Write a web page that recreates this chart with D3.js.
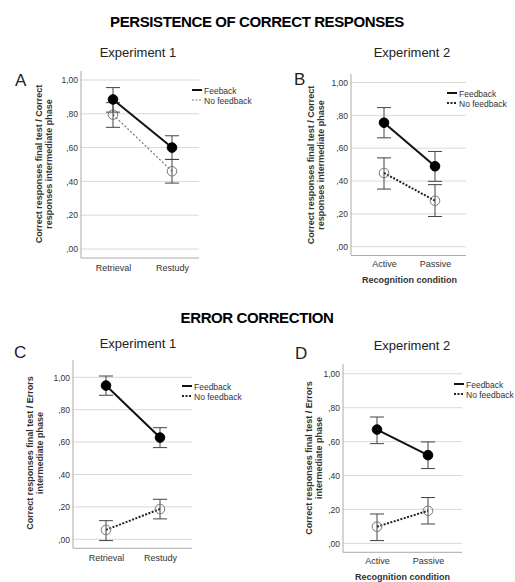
<!DOCTYPE html>
<html>
<head>
<meta charset="utf-8">
<script src="https://cdn.jsdelivr.net/npm/d3@7"></script>
<style>
  body { margin: 0; background: #fff; }
  svg text { font-family: "Liberation Sans", Arial, sans-serif; }
</style>
</head>
<body>
<script>
// categories and tick values
var exp1Conditions = ["Retrieval", "Restudy"],
    exp2Conditions = ["Active", "Passive"],
    yTickValues = [0, 0.2, 0.4, 0.6, 0.8, 1.0];

// panel A - persistence, experiment 1
var aFeedback = [0.885, 0.60],   aFeedbackLo = [0.81, 0.53],  aFeedbackHi = [0.955, 0.67],
    aNoFeedback = [0.795, 0.46], aNoFeedbackLo = [0.72, 0.39], aNoFeedbackHi = [0.866, 0.53];
// panel B - persistence, experiment 2
var bFeedback = [0.755, 0.49],   bFeedbackLo = [0.663, 0.398], bFeedbackHi = [0.847, 0.58],
    bNoFeedback = [0.449, 0.28], bNoFeedbackLo = [0.351, 0.184], bNoFeedbackHi = [0.541, 0.378];
// panel C - error correction, experiment 1
var cFeedback = [0.949, 0.628],  cFeedbackLo = [0.889, 0.566], cFeedbackHi = [1.008, 0.689],
    cNoFeedback = [0.058, 0.187], cNoFeedbackLo = [-0.008, 0.126], cNoFeedbackHi = [0.115, 0.247];
// panel D - error correction, experiment 2
var dFeedback = [0.671, 0.52],   dFeedbackLo = [0.588, 0.441], dFeedbackHi = [0.745, 0.598],
    dNoFeedback = [0.098, 0.192], dNoFeedbackLo = [0.016, 0.114], dNoFeedbackHi = [0.173, 0.27];

var width = 515, height = 582;

var svg = d3.select('body').append('svg')
    .attr('width', width)
    .attr('height', height);

var fmt = function(v){ return d3.format('.2f')(v).replace('0.', ',').replace('1.', '1,'); };

// section headings
svg.append('text').attr('x', 257).attr('y', 27)
    .attr('text-anchor', 'middle').attr('font-size', 15).attr('font-weight', 'bold')
    .attr('letter-spacing', -0.4)
    .text('PERSISTENCE OF CORRECT RESPONSES');
svg.append('text').attr('x', 257).attr('y', 323)
    .attr('text-anchor', 'middle').attr('font-size', 15).attr('font-weight', 'bold')
    .attr('letter-spacing', -0.4)
    .text('ERROR CORRECTION');

var panels = [
  { letter: 'A', exp: 'Experiment 1', cats: exp1Conditions,
    fb: aFeedback, fbLo: aFeedbackLo, fbHi: aFeedbackHi,
    nf: aNoFeedback, nfLo: aNoFeedbackLo, nfHi: aNoFeedbackHi,
    fbLabel: 'Feeback', ytitle: ['Correct responses final test / Correct', 'responses intermediate phase'],
    xtitle: null, nfGray: true,
    ax: 81, gx: 199, y1: 80, y0: 249, axisY: 258, top: 71, catX: [113, 172],
    expX: 138, expY: 57, letX: 15, letY: 86, ytX: 42, ytY: 164, legX: 192, legY: 90, catY: 271 },
  { letter: 'B', exp: 'Experiment 2', cats: exp2Conditions,
    fb: bFeedback, fbLo: bFeedbackLo, fbHi: bFeedbackHi,
    nf: bNoFeedback, nfLo: bNoFeedbackLo, nfHi: bNoFeedbackHi,
    fbLabel: 'Feedback', ytitle: ['Correct responses final test / Correct', 'responses intermediate phase'],
    xtitle: 'Recognition condition', nfGray: false,
    ax: 351, gx: 466, y1: 82.5, y0: 246.7, axisY: 255.5, top: 74, catX: [384, 435],
    expX: 412, expY: 57, letX: 294, letY: 85, ytX: 314, ytY: 165, legX: 447, legY: 93, catY: 267, xtY: 283 },
  { letter: 'C', exp: 'Experiment 1', cats: exp1Conditions,
    fb: cFeedback, fbLo: cFeedbackLo, fbHi: cFeedbackHi,
    nf: cNoFeedback, nfLo: cNoFeedbackLo, nfHi: cNoFeedbackHi,
    fbLabel: 'Feedback', ytitle: ['Correct responses final test / Errors', 'intermediate phase'],
    xtitle: null, nfGray: false,
    ax: 73, gx: 192, y1: 377.3, y0: 539.3, axisY: 548.3, top: 360, catX: [106, 160],
    expX: 138, expY: 348, letX: 14, letY: 358, ytX: 33, ytY: 453, legX: 182, legY: 386, catY: 561 },
  { letter: 'D', exp: 'Experiment 2', cats: exp2Conditions,
    fb: dFeedback, fbLo: dFeedbackLo, fbHi: dFeedbackHi,
    nf: dNoFeedback, nfLo: dNoFeedbackLo, nfHi: dNoFeedbackHi,
    fbLabel: 'Feedback', ytitle: ['Correct responses final test / Errors', 'intermediate phase'],
    xtitle: 'Recognition condition', nfGray: false,
    ax: 343, gx: 462, y1: 373.8, y0: 543.3, axisY: 552.3, top: 364, catX: [377, 428],
    expX: 412, expY: 350, letX: 295, letY: 359, ytX: 312, ytY: 458, legX: 454, legY: 384, catY: 564, xtY: 580 }
];

panels.forEach(function(p){
  var g = svg.append('g');
  var y = d3.scaleLinear().domain([0, 1]).range([p.y0, p.y1]);
  var x = d3.scalePoint().domain(p.cats).range(p.catX);

  g.append('text').attr('x', p.expX).attr('y', p.expY)
      .attr('text-anchor', 'middle').attr('font-size', 13).attr('fill', '#222')
      .text(p.exp);
  g.append('text').attr('x', p.letX).attr('y', p.letY)
      .attr('font-size', 17).attr('fill', '#222')
      .text(p.letter);

  // gridlines
  g.selectAll('line.grid').data(yTickValues).enter().append('line')
      .attr('class', 'grid')
      .attr('x1', p.ax).attr('x2', p.gx)
      .attr('y1', function(d){ return y(d); })
      .attr('y2', function(d){ return y(d); })
      .attr('stroke', '#d9d9d9').attr('stroke-width', 1);

  // y axis (tick labels only)
  var yAxis = d3.axisLeft(y).tickValues(yTickValues).tickFormat(fmt).tickSize(0).tickPadding(3);
  var ya = g.append('g').attr('transform', 'translate(' + p.ax + ',0)').call(yAxis);
  ya.select('.domain').remove();
  ya.selectAll('text').attr('font-size', 8.5).attr('fill', '#333')
      .style('font-family', '"Liberation Sans", Arial, sans-serif');
  g.append('line').attr('x1', p.ax).attr('x2', p.ax).attr('y1', p.top).attr('y2', p.axisY)
      .attr('stroke', '#aaa');

  // x axis
  var xAxis = d3.axisBottom(x).tickSize(0).tickPadding(0);
  var xa = g.append('g').attr('transform', 'translate(0,' + p.catY + ')').call(xAxis);
  xa.select('.domain').remove();
  xa.selectAll('text').attr('font-size', 9).attr('fill', '#333').attr('dy', 0)
      .style('font-family', '"Liberation Sans", Arial, sans-serif');
  g.append('line').attr('x1', p.ax).attr('x2', p.gx).attr('y1', p.axisY).attr('y2', p.axisY)
      .attr('stroke', '#aaa');

  if (p.xtitle) {
    g.append('text').attr('x', (p.catX[0] + p.catX[1]) / 2).attr('y', p.xtY)
        .attr('text-anchor', 'middle').attr('font-size', 9).attr('font-weight', 'bold').attr('fill', '#333')
        .text(p.xtitle);
  }

  // y title, two lines
  var yt = g.append('text').attr('transform', 'translate(' + p.ytX + ',' + p.ytY + ') rotate(-90)')
      .attr('text-anchor', 'middle').attr('font-size', 9).attr('font-weight', 'bold').attr('fill', '#333');
  p.ytitle.forEach(function(t, i){
    yt.append('tspan').attr('x', 0).attr('dy', i === 0 ? 0 : 9.5).text(t);
  });

  var series = [
    { mean: p.nf, lo: p.nfLo, hi: p.nfHi, filled: false },
    { mean: p.fb, lo: p.fbLo, hi: p.fbHi, filled: true }
  ];

  series.forEach(function(s){
    var pts = p.cats.map(function(c, i){ return { c: c, m: s.mean[i], lo: s.lo[i], hi: s.hi[i] }; });

    var line = d3.line().x(function(d){ return x(d.c); }).y(function(d){ return y(d.m); });
    var path = g.append('path').datum(pts).attr('d', line).attr('fill', 'none');
    if (s.filled) {
      path.attr('stroke', '#111').attr('stroke-width', 2);
    } else if (p.nfGray) {
      path.attr('stroke', '#777').attr('stroke-width', 1.2).attr('stroke-dasharray', '2,2');
    } else {
      path.attr('stroke', '#222').attr('stroke-width', 2).attr('stroke-dasharray', '2,1.5');
    }

    // error bars
    var eb = g.selectAll(null).data(pts).enter().append('g').attr('stroke', '#444').attr('stroke-width', 1);
    eb.append('line')
        .attr('x1', function(d){ return x(d.c); }).attr('x2', function(d){ return x(d.c); })
        .attr('y1', function(d){ return y(d.lo); }).attr('y2', function(d){ return y(d.hi); });
    eb.append('line')
        .attr('x1', function(d){ return x(d.c) - 7; }).attr('x2', function(d){ return x(d.c) + 7; })
        .attr('y1', function(d){ return y(d.lo); }).attr('y2', function(d){ return y(d.lo); });
    eb.append('line')
        .attr('x1', function(d){ return x(d.c) - 7; }).attr('x2', function(d){ return x(d.c) + 7; })
        .attr('y1', function(d){ return y(d.hi); }).attr('y2', function(d){ return y(d.hi); });

    g.selectAll(null).data(pts).enter().append('circle')
        .attr('cx', function(d){ return x(d.c); })
        .attr('cy', function(d){ return y(d.m); })
        .attr('r', 4.8)
        .attr('fill', s.filled ? '#000' : 'none')
        .attr('stroke', s.filled ? '#000' : '#777')
        .attr('stroke-width', 1);
  });

  // legend
  var lg = g.append('g').attr('transform', 'translate(' + p.legX + ',' + p.legY + ')');
  lg.append('line').attr('x1', 0).attr('x2', 10).attr('y1', 0).attr('y2', 0)
      .attr('stroke', '#111').attr('stroke-width', 2);
  lg.append('line').attr('x1', 0).attr('x2', 10).attr('y1', 10).attr('y2', 10)
      .attr('stroke', p.nfGray ? '#777' : '#222').attr('stroke-width', p.nfGray ? 1.2 : 2)
      .attr('stroke-dasharray', '2,1.5');
  lg.append('text').attr('x', 12).attr('y', 3.5).attr('font-size', 8.5).attr('fill', '#333').text(p.fbLabel);
  lg.append('text').attr('x', 12).attr('y', 13.5).attr('font-size', 8.5).attr('fill', '#333').text('No feedback');
});
</script>
</body>
</html>
